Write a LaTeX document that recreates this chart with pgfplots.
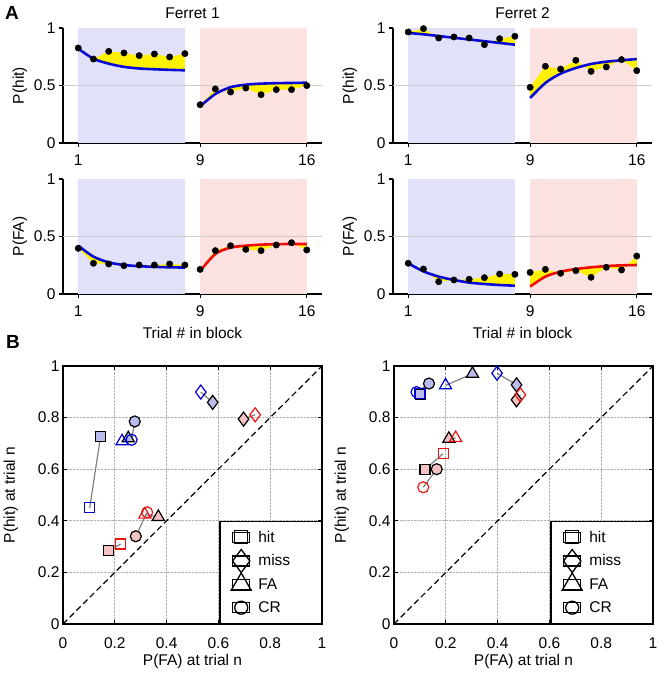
\documentclass[border=0pt]{standalone}
\usepackage{fontspec}
\setmainfont{Liberation Sans}
\usepackage{pgfplots}
\usepackage{pgfplotstable}
\pgfplotsset{compat=1.18}
\usepgfplotslibrary{fillbetween}

\definecolor{bgblue}{RGB}{225,225,250}
\definecolor{bgpink}{RGB}{253,226,226}
\definecolor{fitblue}{RGB}{10,10,215}
\definecolor{fitred}{RGB}{240,10,10}
\definecolor{lav}{RGB}{188,188,236}
\definecolor{rose}{RGB}{244,194,194}
\definecolor{mblue}{RGB}{0,0,215}
\definecolor{mred}{RGB}{235,20,20}

% trial, observed P, fitted P
\pgfplotstableread{
x pt fit
1 0.826 0.820
2 0.730 0.733
3 0.797 0.690
4 0.783 0.662
5 0.760 0.648
6 0.774 0.641
7 0.748 0.636
8 0.777 0.632
9 0.333 0.319
10 0.470 0.426
11 0.443 0.485
12 0.478 0.507
13 0.420 0.516
14 0.464 0.520
15 0.464 0.522
16 0.499 0.524
}\fonehit

\pgfplotstableread{
x pt fit
1 0.965 0.957
2 0.994 0.945
3 0.913 0.930
4 0.922 0.915
5 0.913 0.900
6 0.855 0.885
7 0.907 0.870
8 0.928 0.855
9 0.484 0.391
10 0.667 0.522
11 0.643 0.603
12 0.719 0.652
13 0.623 0.687
14 0.661 0.707
15 0.725 0.719
16 0.629 0.730
}\ftwohit

\pgfplotstableread{
x pt fit
1 0.397 0.420
2 0.267 0.325
3 0.261 0.275
4 0.246 0.252
5 0.252 0.242
6 0.252 0.236
7 0.261 0.232
8 0.252 0.230
9 0.214 0.200
10 0.377 0.348
11 0.420 0.403
12 0.388 0.420
13 0.377 0.429
14 0.426 0.433
15 0.446 0.435
16 0.383 0.435
}\fonefa

\pgfplotstableread{
x pt fit
1 0.267 0.267
2 0.217 0.197
3 0.107 0.151
4 0.122 0.122
5 0.128 0.099
6 0.142 0.087
7 0.174 0.078
8 0.171 0.072
9 0.188 0.064
10 0.214 0.151
11 0.180 0.194
12 0.203 0.217
13 0.145 0.232
14 0.232 0.243
15 0.209 0.249
16 0.330 0.252
}\ftwofa

\newcommand{\fs}{\fontsize{15.5}{18}\selectfont}

\pgfplotsset{
  panelA/.style={
    scale only axis, width=259pt, height=115pt,
    xmin=0, xmax=17, ymin=0, ymax=1,
    xtick={1,9,16}, ytick={0,0.5,1},
    axis x line*=bottom, axis y line*=left,
    tick align=outside, major tick length=4pt,
    axis line style={line width=1.4pt, -},
    every tick/.style={black, line width=1.2pt},
    tick label style={font=\fs},
    label style={font=\fs},
    xticklabel shift=4pt, xlabel shift=4pt,
    title style={font=\fs, yshift=0pt},
    /pgf/number format/assume math mode=true,
    clip=false,
  },
  panelB/.style={
    scale only axis, width=259pt, height=258pt,
    xmin=0, xmax=1, ymin=0, ymax=1,
    xtick={0,0.2,0.4,0.6,0.8,1}, ytick={0,0.2,0.4,0.6,0.8,1},
    xticklabels={0,0.2,0.4,0.6,0.8,1}, yticklabels={0,0.2,0.4,0.6,0.8,1},
    grid=major, grid style={densely dotted, black!30, line width=0.7pt},
    tick align=inside, tick pos=both, major tick length=4pt,
    axis line style={line width=1.4pt},
    every tick/.style={black, line width=1.2pt},
    tick label style={font=\fs},
    label style={font=\fs},
    xticklabel shift=10pt, xlabel shift=-1pt, ylabel shift=13pt,
    xlabel={P(FA) at trial n}, ylabel={P(hit) at trial n},
    clip=false,
    legend style={at={(1,0)}, anchor=south east, draw=black, line width=1.3pt,
      fill=white, inner xsep=12pt, inner ysep=7.5pt, row sep=7pt, column sep=6pt,
      cells={anchor=west}, font=\fs},
    legend image code/.code={%
      \path (0pt,-5pt) rectangle (17pt,5pt);
      \draw[#1, overlay] plot coordinates {(8.5pt,0pt)};},
  },
}

% one panel of A: backgrounds, yellow gaps, fitted curves, observed points
\newcommand{\blockplot}[2]{%
  \addplot[fill=bgblue, draw=none] coordinates {(1,1) (8,1)} \closedcycle;
  \addplot[fill=bgpink, draw=none] coordinates {(9,1) (16,1)} \closedcycle;
  \addplot[black!20, line width=1.2pt] coordinates {(0,0.5) (17,0.5)};
  \addplot[draw=none, name path=pa, restrict x to domain=1:8] table[x=x, y=pt] {#1};
  \addplot[draw=none, smooth, name path=fa, restrict x to domain=1:8] table[x=x, y=fit] {#1};
  \addplot[fill=yellow, draw=none] fill between[of=pa and fa, on layer=main];
  \addplot[draw=none, name path=pb, restrict x to domain=9:16] table[x=x, y=pt] {#1};
  \addplot[draw=none, smooth, name path=fb, restrict x to domain=9:16] table[x=x, y=fit] {#1};
  \addplot[fill=yellow, draw=none] fill between[of=pb and fb, on layer=main];
  \addplot[fitblue, line width=2.6pt, smooth, restrict x to domain=1:8] table[x=x, y=fit] {#1};
  \addplot[#2, line width=2.6pt, smooth, restrict x to domain=9:16] table[x=x, y=fit] {#1};
  \addplot[only marks, mark=*, mark size=3.2pt, black] table[x=x, y=pt] {#1};
}

% one pair in B: open shape, filled shape, size, edge colour, fill colour, open point, filled point
\newcommand{\pair}[7]{%
  \addplot[black!50, line width=1.2pt] coordinates {(#6) (#7)};
  \addplot[only marks, mark=#2, mark size=#3, mark options={draw=black, fill=#5, line width=1.2pt}] coordinates {(#7)};
  \addplot[only marks, #4, mark=#1, mark size=#3, mark options={line width=1.2pt}] coordinates {(#6)};
}

\newcommand{\shapelegend}{%
  \addlegendimage{only marks, black, mark=square, mark size=6.5pt, mark options={line width=1.3pt}}
  \addlegendentry{\makebox[49pt][l]{hit}}
  \addlegendimage{only marks, black, mark=diamond, mark size=11.5pt, mark options={line width=1.3pt}}
  \addlegendentry{\makebox[49pt][l]{miss}}
  \addlegendimage{only marks, black, mark=triangle, mark size=11.5pt, mark options={line width=1.3pt}}
  \addlegendentry{\makebox[49pt][l]{FA}}
  \addlegendimage{only marks, black, mark=o, mark size=6.5pt, mark options={line width=1.3pt}}
  \addlegendentry{\makebox[49pt][l]{CR}}
}

\begin{document}
\begin{tikzpicture}

\node[font=\bfseries\fontsize{19}{22}\selectfont] at (12pt,661pt) {A};
\node[font=\bfseries\fontsize{19}{22}\selectfont] at (13pt,332pt) {B};

\begin{axis}[panelA, at={(63pt,531pt)}, anchor=south west, title={Ferret 1}, ylabel={P(hit)}]
\blockplot{\fonehit}{fitblue}
\end{axis}

\begin{axis}[panelA, at={(393pt,531pt)}, anchor=south west, title={Ferret 2}, ylabel={P(hit)}]
\blockplot{\ftwohit}{fitblue}
\end{axis}

\begin{axis}[panelA, at={(63pt,380pt)}, anchor=south west, ylabel={P(FA)}, xlabel={Trial \# in block}]
\blockplot{\fonefa}{fitred}
\end{axis}

\begin{axis}[panelA, at={(393pt,380pt)}, anchor=south west, ylabel={P(FA)}, xlabel={Trial \# in block}]
\blockplot{\ftwofa}{fitred}
\end{axis}

\begin{axis}[panelB, at={(63pt,50pt)}, anchor=south west]
\shapelegend
\addplot[black, dash pattern=on 6pt off 3.5pt, line width=1.2pt] coordinates {(0,0) (1,1)};
\pair{square}{square*}{5pt}{mblue}{lav}{0.103,0.450}{0.145,0.727}
\pair{square}{square*}{5pt}{mred}{rose}{0.223,0.310}{0.177,0.285}
\pair{diamond}{diamond*}{7pt}{mblue}{lav}{0.532,0.899}{0.578,0.859}
\pair{diamond}{diamond*}{7pt}{mred}{rose}{0.742,0.811}{0.697,0.794}
\pair{triangle}{triangle*}{7pt}{mblue}{lav}{0.228,0.708}{0.252,0.720}
\pair{triangle}{triangle*}{7pt}{mred}{rose}{0.316,0.424}{0.368,0.415}
\pair{o}{*}{5.5pt}{mblue}{lav}{0.265,0.714}{0.277,0.785}
\pair{o}{*}{5.5pt}{mred}{rose}{0.325,0.433}{0.281,0.340}
\end{axis}

\begin{axis}[panelB, at={(394pt,50pt)}, anchor=south west]
\shapelegend
\addplot[black, dash pattern=on 6pt off 3.5pt, line width=1.2pt] coordinates {(0,0) (1,1)};
\pair{o}{*}{5.5pt}{mblue}{lav}{0.087,0.899}{0.135,0.932}
\pair{square}{square*}{5pt}{mblue}{lav}{0.100,0.892}{0.103,0.888}
\pair{square}{square*}{5pt}{mred}{rose}{0.190,0.660}{0.120,0.600}
\pair{diamond}{diamond*}{7pt}{mblue}{lav}{0.398,0.972}{0.473,0.927}
\pair{diamond}{diamond*}{7pt}{mred}{rose}{0.488,0.888}{0.473,0.869}
\pair{triangle}{triangle*}{7pt}{mblue}{lav}{0.199,0.925}{0.303,0.970}
\pair{triangle}{triangle*}{7pt}{mred}{rose}{0.238,0.721}{0.212,0.718}
\pair{o}{*}{5.5pt}{mred}{rose}{0.113,0.530}{0.165,0.600}
\end{axis}

\pgfresetboundingbox
\path[use as bounding box] (0pt,0pt) rectangle (658pt,674pt);
\end{tikzpicture}
\end{document}
